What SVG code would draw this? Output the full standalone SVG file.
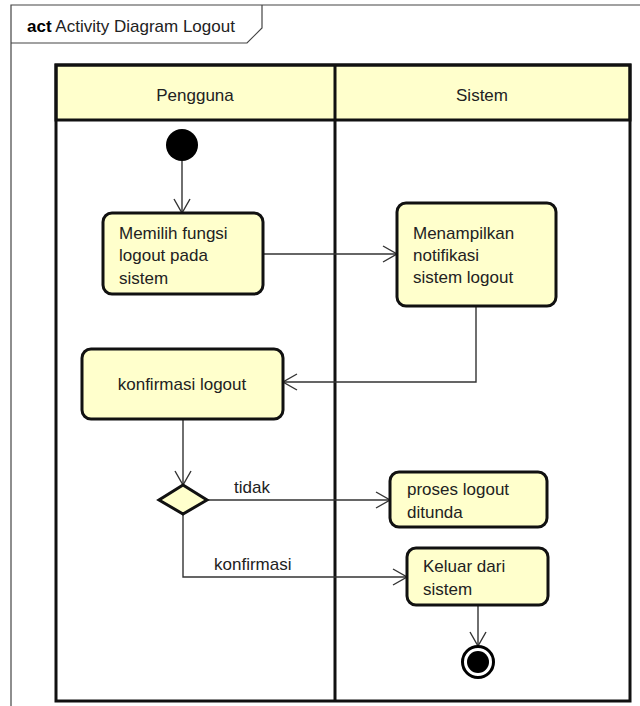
<svg xmlns="http://www.w3.org/2000/svg" width="640" height="706" viewBox="0 0 640 706">
  <style>
    text { font-family: "Liberation Sans", Arial, sans-serif; font-size: 17px; fill: #222; }
    .frame { fill: none; stroke: #444; stroke-width: 1.2; }
    .lane { fill: none; stroke: #111; stroke-width: 3; }
    .lanehead { fill: #FFFFCC; stroke: #111; stroke-width: 3; }
    .action { fill: #FFFFCC; stroke: #111; stroke-width: 3; }
    .decision { fill: #FFFFCC; stroke: #111; stroke-width: 3; stroke-linejoin: miter; }
    .flow { fill: none; stroke: #333; stroke-width: 1.4; marker-end: url(#open); }
  </style>
  <defs>
    <marker id="open" viewBox="0 0 16 18" refX="15" refY="9" markerWidth="16" markerHeight="18" markerUnits="userSpaceOnUse" orient="auto">
      <path d="M1,1 L15,9 L1,17" fill="none" stroke="#333" stroke-width="1.4"/>
    </marker>
  </defs>

  <rect width="640" height="706" fill="#ffffff"/>

  <!-- diagram frame with name tab -->
  <g id="frame">
    <path class="frame" d="M11,706 L11,5 L640,5"/>
    <path class="frame" d="M11,43 L247,43 L262,28 L262,5"/>
    <text x="27" y="32"><tspan font-weight="bold" fill="#000">act</tspan> Activity Diagram Logout</text>
  </g>

  <!-- swimlanes -->
  <g id="lanes">
    <rect class="lanehead" x="56" y="65" width="574" height="55"/>
    <rect class="lane" x="56" y="65" width="574" height="636"/>
    <line class="lane" x1="335" y1="65" x2="335" y2="701"/>
    <text x="195" y="101" text-anchor="middle">Pengguna</text>
    <text x="482" y="101" text-anchor="middle">Sistem</text>
  </g>

  <!-- connectors -->
  <g id="connectors">
    <path class="flow" d="M182,161 L182,213"/>
    <path class="flow" d="M263,254 L397,254"/>
    <path class="flow" d="M476,306 L476,382 L283,382"/>
    <path class="flow" d="M183,419 L183,485"/>
    <path class="flow" d="M207,500 L390,500"/>
    <path class="flow" d="M183,514 L183,577 L407,577"/>
    <path class="flow" d="M478,605 L478,646"/>
    <text x="234" y="493">tidak</text>
    <text x="214" y="570">konfirmasi</text>
  </g>

  <g id="start">
    <circle cx="182" cy="145" r="16" fill="#000"/>
  </g>

  <g id="pilih-logout">
    <rect class="action" x="103" y="213" width="160" height="81" rx="9"/>
    <text x="119" y="239">Memilih fungsi</text>
    <text x="119" y="261">logout pada</text>
    <text x="119" y="284">sistem</text>
  </g>

  <g id="notifikasi-logout">
    <rect class="action" x="397" y="203" width="159" height="103" rx="9"/>
    <text x="413" y="239">Menampilkan</text>
    <text x="413" y="261">notifikasi</text>
    <text x="413" y="283">sistem logout</text>
  </g>

  <g id="konfirmasi-logout">
    <rect class="action" x="82" y="349" width="201" height="70" rx="9"/>
    <text x="182" y="390" text-anchor="middle">konfirmasi logout</text>
  </g>

  <g id="keputusan">
    <polygon class="decision" points="183,485 207,500 183,514 159,500"/>
  </g>

  <g id="logout-ditunda">
    <rect class="action" x="390" y="472" width="157" height="55" rx="9"/>
    <text x="407" y="495">proses logout</text>
    <text x="407" y="518">ditunda</text>
  </g>

  <g id="keluar-sistem">
    <rect class="action" x="407" y="548" width="141" height="57" rx="9"/>
    <text x="423" y="572">Keluar dari</text>
    <text x="423" y="595">sistem</text>
  </g>

  <g id="end">
    <circle cx="478" cy="662" r="15.5" fill="#fff" stroke="#000" stroke-width="3"/>
    <circle cx="478" cy="662" r="11" fill="#000"/>
  </g>
</svg>
